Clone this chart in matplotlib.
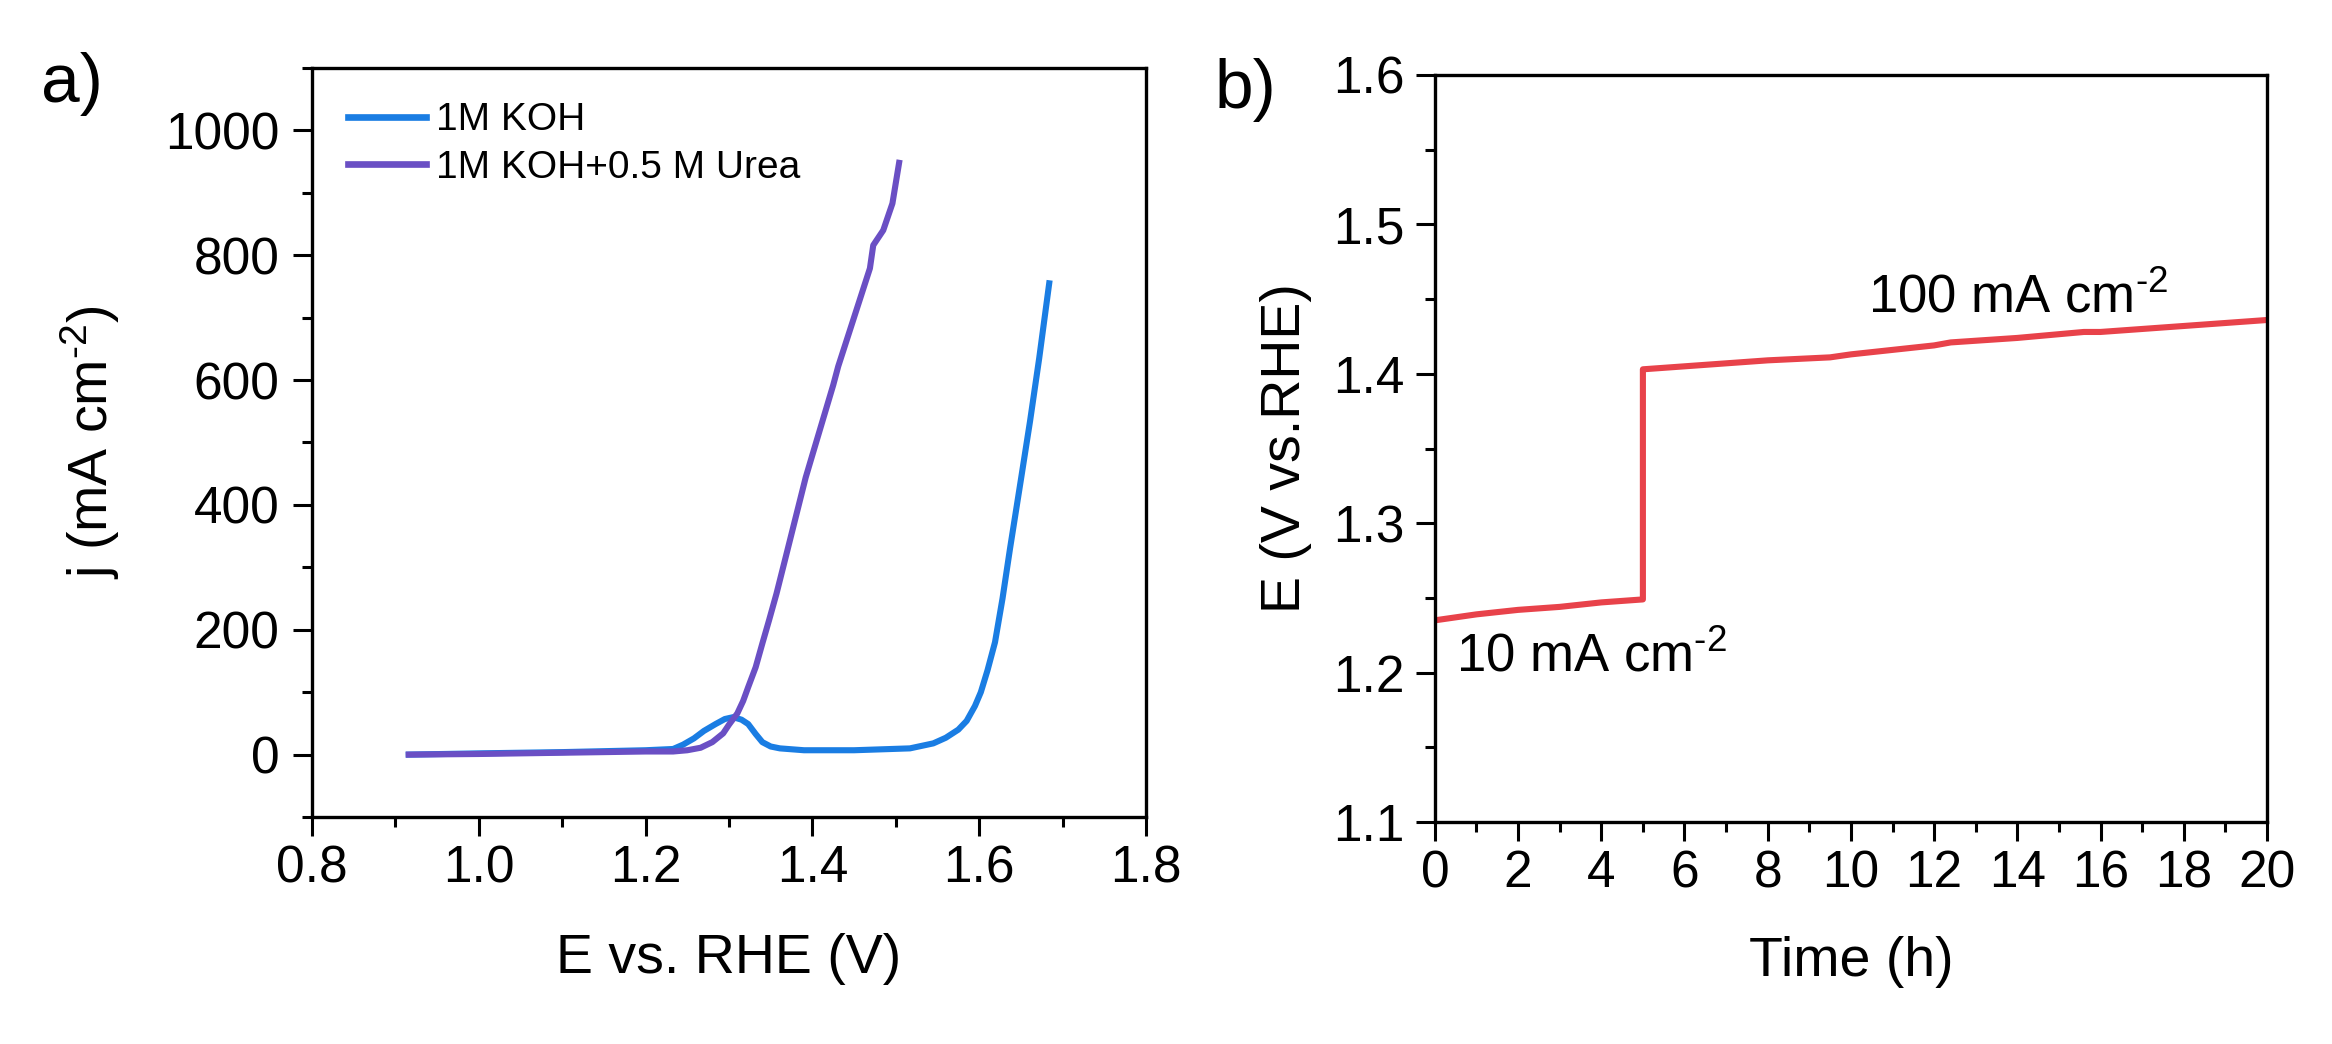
import matplotlib
matplotlib.use("Agg")
import matplotlib.pyplot as plt
from matplotlib.ticker import MultipleLocator

plt.rcParams['font.family'] = ['Liberation Sans', 'DejaVu Sans']
plt.rcParams['mathtext.fontset'] = 'custom'
plt.rcParams['mathtext.rm'] = 'Liberation Sans'
plt.rcParams['mathtext.default'] = 'regular'

# ---- Panel a data: LSV curves ----
E_koh = [0.916, 1.00, 1.10, 1.20, 1.233, 1.245, 1.258, 1.270, 1.284, 1.295, 1.305, 1.315,
         1.323, 1.332, 1.340, 1.350, 1.361, 1.39,
         1.45, 1.517, 1.545, 1.560, 1.575, 1.585, 1.595, 1.602, 1.610, 1.619, 1.628, 1.637,
         1.650, 1.661, 1.672, 1.684]
j_koh = [0, 2, 4, 7, 9, 16, 26, 38, 49, 57, 60, 56,
         49, 33, 20, 13, 10, 7,
         7, 10, 18, 27, 40, 54, 78, 100, 135, 180, 250, 330,
         440, 534, 635, 755]

E_urea = [0.916, 1.00, 1.10, 1.20, 1.233, 1.250, 1.266, 1.280, 1.293, 1.300, 1.310, 1.317,
          1.323, 1.332, 1.340, 1.348, 1.357, 1.367,
          1.392, 1.400, 1.425, 1.431, 1.469, 1.473, 1.485, 1.496, 1.504]
j_urea = [0, 1, 3, 5, 5, 7, 11, 20, 34, 48, 66, 86,
          108, 140, 178, 215, 258, 311,
          444, 480, 592, 622, 779, 816, 840, 883, 948]

labels_a = ['1M KOH', '1M KOH+0.5 M Urea']

# ---- Panel b data: chronopotentiometry ----
t_b = [0, 0.5, 1, 2, 3, 4, 5, 5, 6, 8, 9.5, 10, 12, 12.4, 14, 15.6, 16, 18, 20]
E_b = [1.235, 1.237, 1.239, 1.242, 1.244, 1.247, 1.249, 1.403, 1.405, 1.409, 1.411,
       1.413, 1.419, 1.421, 1.424, 1.428, 1.428, 1.432, 1.436]
ann_b = ['10 mA cm$^{\\text{-}2}$', '100 mA cm$^{\\text{-}2}$']

c_blue = '#1a7de3'
c_purple = '#6a4fc4'
c_red = '#e8424a'

fig = plt.figure(figsize=(11.66, 5.22), dpi=200)
axa = fig.add_axes([0.1338, 0.2174, 0.4914 - 0.1338, 0.9349 - 0.2174])
axb = fig.add_axes([0.6153, 0.2126, 0.9721 - 0.6153, 0.9282 - 0.2126])

for ax in (axa, axb):
    for s in ax.spines.values():
        s.set_linewidth(1.2)
    ax.tick_params(which='major', direction='out', length=6.8, width=1.1, labelsize=18.5)
    ax.tick_params(which='minor', direction='out', length=3.5, width=1.1)
    ax.tick_params(top=False, right=False, which='both')

# Panel a
axa.plot(E_koh, j_koh, color=c_blue, lw=2.2, label=labels_a[0], solid_joinstyle='round')
axa.plot(E_urea, j_urea, color=c_purple, lw=2.2, label=labels_a[1], solid_joinstyle='round')
axa.set_xlim(0.8, 1.8)
axa.set_ylim(-100, 1100)
axa.xaxis.set_major_locator(MultipleLocator(0.2))
axa.xaxis.set_minor_locator(MultipleLocator(0.1))
axa.yaxis.set_major_locator(MultipleLocator(200))
axa.yaxis.set_minor_locator(MultipleLocator(100))
axa.set_xticks([0.8, 1.0, 1.2, 1.4, 1.6, 1.8])
axa.set_xticklabels(['0.8', '1.0', '1.2', '1.4', '1.6', '1.8'])
axa.set_yticks([0, 200, 400, 600, 800, 1000])
axa.tick_params(axis='x', which='major', pad=3)
axa.tick_params(axis='y', which='major', pad=5)
axa.set_xlabel('E vs. RHE (V)', fontsize=20)
axa.set_ylabel('j (mA cm$^{\\text{-}2}$)', fontsize=20)
axa.xaxis.set_label_coords(0.5, -0.155)
axa.yaxis.set_label_coords(-0.228, 0.5)
leg = axa.legend(loc='upper left', bbox_to_anchor=(0.025, 0.975), frameon=False,
                 fontsize=14, handlelength=2.0, handletextpad=0.25, labelspacing=0.3,
                 borderaxespad=0.0)
for ln in leg.get_lines():
    ln.set_linewidth(2.4)

# Panel b
axb.plot(t_b, E_b, color=c_red, lw=2.2)
axb.set_xlim(0, 20)
axb.set_ylim(1.1, 1.6)
axb.xaxis.set_major_locator(MultipleLocator(2))
axb.xaxis.set_minor_locator(MultipleLocator(1))
axb.yaxis.set_major_locator(MultipleLocator(0.1))
axb.yaxis.set_minor_locator(MultipleLocator(0.05))
axb.set_yticks([1.1, 1.2, 1.3, 1.4, 1.5, 1.6])
axb.set_yticklabels(['1.1', '1.2', '1.3', '1.4', '1.5', '1.6'])
axb.tick_params(axis='x', which='major', pad=3)
axb.tick_params(axis='y', which='major', pad=4)
axb.set_xlabel('Time (h)', fontsize=20)
axb.set_ylabel('E (V vs.RHE)', fontsize=20)
axb.xaxis.set_label_coords(0.5, -0.152)
axb.yaxis.set_label_coords(-0.148, 0.5)
axb.text(0.5, 1.201, ann_b[0], fontsize=19, ha='left', va='baseline')
axb.text(10.4, 1.441, ann_b[1], fontsize=19, ha='left', va='baseline')

fig.text(0.031, 0.920, 'a)', fontsize=25, ha='center', va='center')
fig.text(0.534, 0.914, 'b)', fontsize=25, ha='center', va='center')

fig.savefig('out.png', dpi=200)
